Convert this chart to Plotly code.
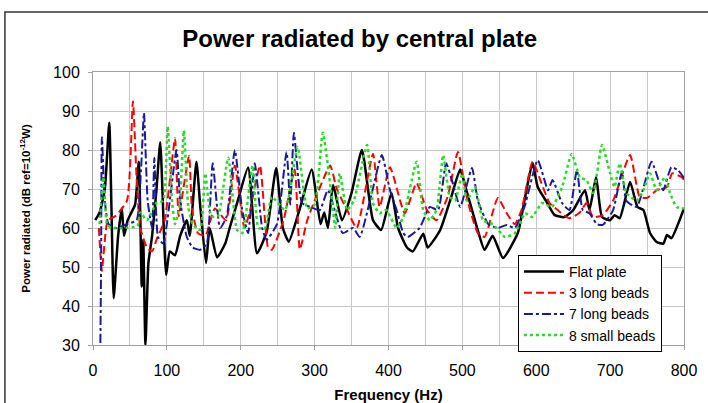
import plotly.graph_objects as go

# ---- data ----
flat_f = [3, 9, 16, 22, 25, 28, 34, 39, 42, 47, 52, 57, 62, 66, 68, 71, 75, 80, 86, 91,
          99, 104, 111, 118, 127, 131, 140, 145, 153, 158, 168, 179, 185, 196, 210, 222,
          235, 248, 257, 265, 280, 296, 308, 313, 318, 325, 337, 350, 364, 379, 390, 404,
          413, 425, 433, 447, 453, 470, 485, 497, 505, 520, 530, 541, 555, 575, 585, 595,
          602, 614, 625, 638, 650, 666, 672, 681, 689, 700, 706, 713, 727, 737, 745, 754,
          763, 772, 777, 783, 794, 800]
flat_db = [62, 64, 70, 87, 65, 42, 58, 65, 58, 62, 64, 66, 77, 45, 57, 30, 51, 58, 70, 82,
           48, 54, 53, 58, 62, 58, 77, 66, 51, 60, 52.5, 56, 60, 67, 75.5, 53.5,
           59, 75.4, 60, 56.5, 65, 75, 61, 64, 60, 71, 62, 69, 80, 62, 59.5, 69,
           60, 55, 54, 58.5, 55, 59.5, 68, 75, 70, 60, 54.4, 58, 52.3, 58.7, 68, 76.7,
           70.5, 66.7, 63.3, 62.8, 64.6, 69.7, 64.6, 73, 62.8, 62, 63.3, 62.5, 71.8, 65.4, 64.6, 58.7,
           56.4, 56, 58.2, 57.4, 62, 65]

red_f = [8, 12, 20, 30, 46, 54, 59, 64, 73, 80, 86, 97, 111, 114, 116, 130, 134, 142, 152,
         165, 180, 192, 205, 212, 226, 237, 242, 258, 273, 280, 290, 300, 321, 330, 344, 357,
         379, 388, 402, 422, 438, 452, 465, 480, 494, 507, 521, 530, 548, 560, 571, 580, 595,
         607, 618, 629, 645, 659, 668, 677, 690, 704, 727, 740, 750, 763, 777, 784, 797, 800]
red_db = [60, 49, 62, 63, 67, 92.5, 73, 60, 55, 54, 57, 62, 83, 70, 63, 78.5, 65, 58.7, 58,
          65, 62, 76, 60, 64, 76, 55, 54.4, 62, 75, 54.5, 62, 67, 76, 70, 64.6, 60,
          79, 65.4, 75.6, 63.8, 71.5, 64.6, 62, 68, 79.5, 67, 58.7, 57.7, 67.7, 63.8, 61, 64.6, 77,
          71.5, 66.4, 64.6, 62.5, 64, 66.4, 62.8, 63.3, 67, 78.7, 68, 67.7, 69.7, 70.5, 74, 73, 72.3]

blue_f = [10, 11, 12, 16, 21, 32, 46, 59, 65, 69, 74, 80, 83, 88, 95, 113, 118, 127, 135,
          145, 154, 162, 172, 181, 192, 202, 210, 219, 229, 235, 249, 262, 267, 272, 283,
          294, 307, 318, 338, 352, 361, 375, 391, 402, 411, 420, 426, 442, 456, 467, 478,
          487, 497, 513, 521, 535, 548, 560, 571, 584, 602, 616, 622, 635, 645, 655, 663,
          672, 682, 690, 704, 716, 722, 736, 756, 767, 772, 783, 792, 800]
blue_db = [30.5, 52.6, 83.3, 67, 61, 60, 61, 62, 75, 89.5, 67, 60, 78, 57.7, 56, 80, 67, 57.7, 55,
           54.4, 56, 76.6, 60, 63, 80, 64.6, 58.7, 76.6, 60, 57, 61, 79.5, 66, 84.4, 66.4,
           65.4, 64.6, 69.7, 58.7, 60, 57.7, 67, 78.7, 69.7, 64.6, 58.7, 57.7, 60, 65.4, 64.6, 76.6,
           71.5, 65.4, 75.4, 67, 61, 60, 60.8, 60, 65.4, 77.4, 69.7, 72.3, 66.4, 64.6, 74.8, 64.6,
           63.8, 61, 60.8, 64.6, 74.4, 67, 65.4, 77, 71.5, 69.7, 75.6, 74.8, 72.8]

green_f = [9, 14, 19, 25, 40, 60, 64, 73, 86, 95, 101, 107, 111, 117, 123, 129, 135, 145, 152,
           160, 169, 183, 195, 202, 216, 224, 233, 242, 260, 277, 290, 300, 311, 322, 328, 334,
           344, 353, 371, 379, 388, 397, 411, 420, 438, 447, 456, 465, 474, 483, 490, 500, 506,
           517, 528, 541, 558, 571, 585, 594, 608, 621, 635, 648, 659, 668, 677, 689, 700, 706,
           713, 722, 736, 745, 754, 763, 774, 781, 790, 800]
green_db = [61, 73, 61, 60, 60, 60.5, 64, 62, 66.4, 67, 86, 67, 61, 65.4, 85, 65.4, 61, 59.5, 74,
            63, 63, 78, 59.5, 58.7, 76, 60, 60, 68, 64.6, 80.8, 65, 66, 84.4, 69.7, 60, 74,
            64.6, 67, 81.3, 66.4, 63.8, 64.6, 60, 62.8, 77, 64.6, 62, 64.6, 78.7, 68, 67, 74, 67,
            70.5, 62, 61, 57.7, 58.7, 63.8, 62.8, 66.4, 65.4, 70.5, 79, 73, 72.3, 69, 81.3, 74, 70.5,
            76.6, 69, 67, 69.7, 74, 69.7, 73, 69, 65.4, 65]

series_names = ["Flat plate", "3 long beads", "7 long beads", "8 small beads"]
x_ticks = [0, 100, 200, 300, 400, 500, 600, 700, 800]
y_ticks = [30, 40, 50, 60, 70, 80, 90, 100]

FONT = "Arial, 'Liberation Sans', sans-serif"

fig = go.Figure()
fig.add_trace(go.Scatter(x=flat_f, y=flat_db, mode="lines", name=series_names[0],
                         line=dict(color="#000000", width=2.5, shape="spline", smoothing=0.5)))
fig.add_trace(go.Scatter(x=red_f, y=red_db, mode="lines", name=series_names[1],
                         line=dict(color="#ff0000", width=2, dash="8px,4px", shape="spline", smoothing=0.5)))
fig.add_trace(go.Scatter(x=blue_f, y=blue_db, mode="lines", name=series_names[2],
                         line=dict(color="#1a1a99", width=2, dash="dashdot", shape="spline", smoothing=0.5)))
fig.add_trace(go.Scatter(x=green_f, y=green_db, mode="lines", name=series_names[3],
                         line=dict(color="#22dd22", width=2.5, dash="dot", shape="spline", smoothing=0.5)))

fig.update_layout(
    width=708, height=403,
    margin=dict(l=93, r=24, t=72, b=58),
    paper_bgcolor="white", plot_bgcolor="white",
    font=dict(family=FONT, color="black"),
    title=dict(text="<b>Power radiated by central plate</b>",
               x=0.508, xref="container", xanchor="center",
               y=0.905, yref="container", yanchor="middle",
               font=dict(size=24, family=FONT, color="black")),
    xaxis=dict(range=[0, 800], tickvals=x_ticks, tickfont=dict(size=16),
               showgrid=True, gridcolor="#c8c8c8", gridwidth=1,
               minor=dict(dtick=50, showgrid=True, gridcolor="#c8c8c8", gridwidth=1),
               showline=True, linecolor="#a0a0a0", linewidth=1, mirror=True,
               ticks="outside", ticklen=4, tickcolor="#a0a0a0", zeroline=False,
               ticklabelstandoff=7, automargin=False,
               title=dict(text="<b>Frequency (Hz)</b>", font=dict(size=15), standoff=14)),
    yaxis=dict(range=[30, 100], tickvals=y_ticks, tickfont=dict(size=16),
               showgrid=True, gridcolor="#c8c8c8", gridwidth=1,
               showline=True, linecolor="#a0a0a0", linewidth=1, mirror=True,
               ticks="outside", ticklen=4, tickcolor="#a0a0a0", zeroline=False,
               ticklabelstandoff=5, automargin=False,
               title=dict(text="<b>Power radiated (dB ref=10<sup>-12</sup>W)</b>",
                          font=dict(size=11.5), standoff=20)),
    legend=dict(x=0.719, y=0.33, xanchor="left", yanchor="top",
                bgcolor="white", bordercolor="#000000", borderwidth=1,
                font=dict(size=14, family=FONT), tracegroupgap=0, itemwidth=40),
    showlegend=True,
)

# outer chart frame
fig.add_shape(type="rect", xref="paper", yref="paper",
              x0=-0.149, x1=1.2, y0=-0.4, y1=1.2198,
              line=dict(color="#333333", width=1.5), fillcolor="rgba(0,0,0,0)", layer="below")

fig.write_html("out.html", config={"displayModeBar": False},
               post_script="document.body.style.margin='0px';document.body.style.overflow='hidden';")
